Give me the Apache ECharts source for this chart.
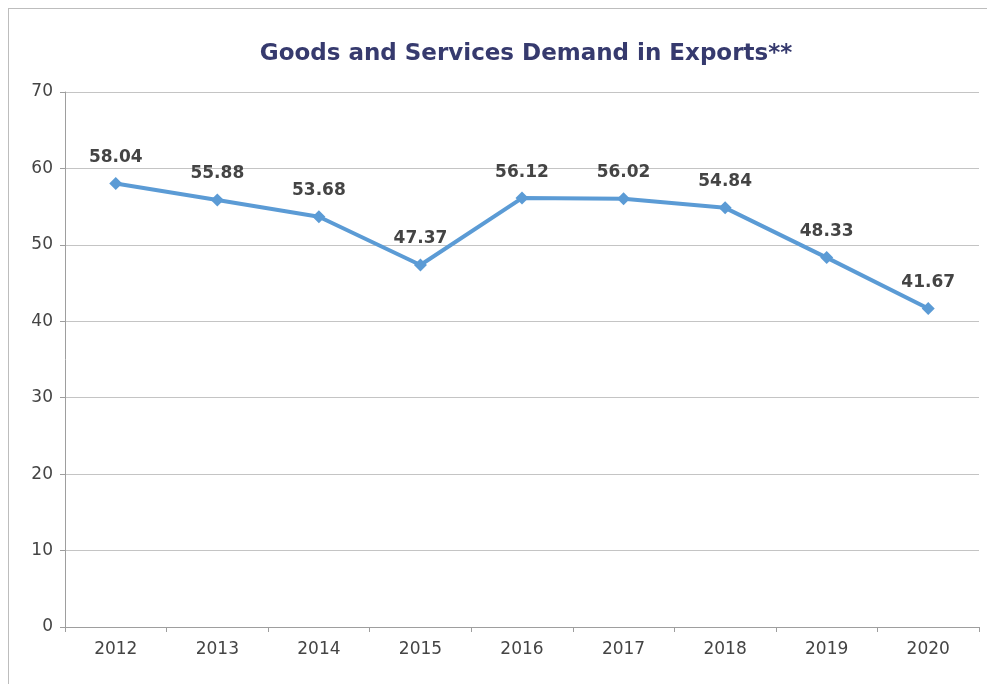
<!DOCTYPE html>
<html><head><meta charset="utf-8">
<script src="https://cdn.jsdelivr.net/npm/echarts@6/dist/echarts.min.js"></script>
<style>html,body{margin:0;padding:0;background:#fff}#frame{position:absolute;left:8px;top:8px;width:1000px;height:700px;border:1px solid #bdbdbd;box-sizing:border-box}#c{position:absolute;left:0;top:0;width:987px;height:684px}</style>
</head><body><div id="frame"></div><div id="c"></div>
<script>
const titleText = 'Goods and Services Demand in Exports**';
const categories = ['2012','2013','2014','2015','2016','2017','2018','2019','2020'];
const values = [58.04, 55.88, 53.68, 47.37, 56.12, 56.02, 54.84, 48.33, 41.67];
const yTicks = [0,10,20,30,40,50,60,70];

const chart = echarts.init(document.getElementById('c'));
const font = '"DejaVu Sans", sans-serif';
chart.setOption({
  animation: false,
  title: { text: titleText, left: 521, textAlign: 'center', top: 38,
    textStyle: { color: '#363a6e', fontSize: 23, fontWeight: 'bold', fontFamily: font } },
  grid: { left: 65, right: 8, top: 92, bottom: 57 },
  xAxis: { type: 'category', data: categories, boundaryGap: true,
    axisLine: { lineStyle: { color: '#9e9e9e', width: 1 } },
    axisTick: { show: true, length: 5, lineStyle: { color: '#9e9e9e' } },
    axisLabel: { color: '#444', fontSize: 17, fontFamily: font, margin: 14 } },
  yAxis: { type: 'value', min: yTicks[0], max: yTicks[yTicks.length-1], interval: 10,
    axisLine: { show: true, lineStyle: { color: '#9e9e9e' } },
    axisTick: { show: true, length: 5, lineStyle: { color: '#9e9e9e' } },
    splitLine: { lineStyle: { color: '#c4c4c4' } },
    axisLabel: { color: '#444', fontSize: 17, fontFamily: font, margin: 12 } },
  series: [{ type: 'line', data: values, symbol: 'diamond', symbolSize: 13,
    lineStyle: { color: '#5b9bd5', width: 4 }, itemStyle: { color: '#5b9bd5' },
    label: { show: true, position: 'top', distance: 11, color: '#444', fontSize: 17, fontWeight: 'bold', fontFamily: font,
      formatter: p => p.value.toFixed(2) } }]
});
</script></body></html>
